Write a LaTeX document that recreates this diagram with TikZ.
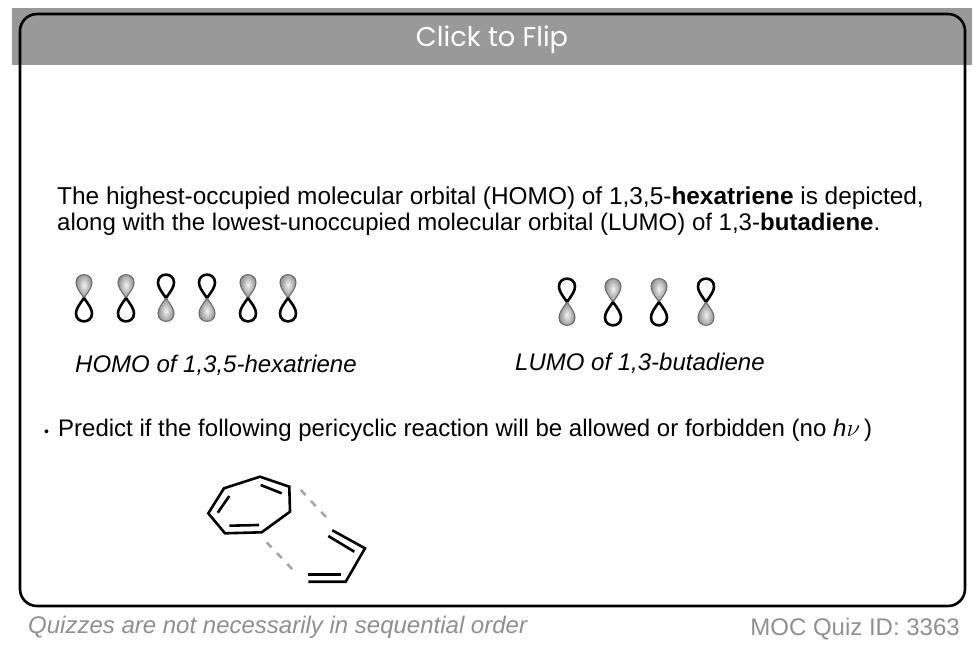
\documentclass[tikz,border=0pt]{standalone}
\usepackage{fontspec}
\setmainfont{Liberation Sans}
\newfontfamily\flipfont{Poppins}

\definecolor{bandgray}{HTML}{999999}
\definecolor{footgray}{HTML}{8F8F8F}
\tikzset{
	bodytext/.style={anchor=base west, inner sep=0pt, font=\fontsize{24}{28}\selectfont},
	slanted/.style={anchor=base west, inner sep=0pt, font=\fontsize{24}{28}\selectfont\itshape},
	foottext/.style={inner sep=0pt, text=footgray, font=\fontsize{24}{28}\selectfont},
	bond/.style={line width=2.6pt, line join=miter},
	forming/.style={line width=2.6pt, draw=black!35, dash pattern=on 7pt off 8pt},
	emptylobe/.style={line width=2.6pt, draw=black},
	fullobe/.style={line width=1pt, draw=black!60, inner color=black!5, outer color=black!45}
}

% one p orbital: x, y of the waist, then the style of upper and lower lobe
\newcommand{\porbital}[4]{
	\path [#3] (#1,#2) .. controls (#1-5,#2-7) and (#1-8,#2-11) .. (#1-8,#2-15.5)
		.. controls (#1-8,#2-26) and (#1+8,#2-26) .. (#1+8,#2-15.5)
		.. controls (#1+8,#2-11) and (#1+5,#2-7) .. (#1,#2);
	\path [#4] (#1,#2) .. controls (#1-5,#2+7) and (#1-8,#2+11) .. (#1-8,#2+15.5)
		.. controls (#1-8,#2+26) and (#1+8,#2+26) .. (#1+8,#2+15.5)
		.. controls (#1+8,#2+11) and (#1+5,#2+7) .. (#1,#2);
}

\begin{document}
\begin{tikzpicture}[x=1pt, y=-1pt]

	\useasboundingbox (0,0) rectangle (978,650);

	% card
	\fill [bandgray] (12,8) rectangle (972,65);
	\draw [line width=2.6pt, rounded corners=17pt] (20,14) rectangle (965,606);
	\node (flip) [anchor=base, inner sep=0pt, text=white, font=\flipfont\fontsize{27.2}{30}\selectfont] at (492,47) {Click to Flip};

	% question
	\node (line1) [bodytext, font=\fontsize{24.4}{28}\selectfont] at (57,204.5) {The highest-occupied molecular orbital (HOMO) of 1,3,5-\textbf{hexatriene} is depicted,};
	\node (line2) [bodytext] at (57,230) {along with the lowest-unoccupied molecular orbital (LUMO) of 1,3-\textbf{butadiene}.};

	% hexatriene
	\foreach \ox/\lobetop/\lobebot in {84/fullobe/emptylobe, 126/fullobe/emptylobe, 166/emptylobe/fullobe, 207/emptylobe/fullobe, 248/fullobe/emptylobe, 288/fullobe/emptylobe}
		\porbital{\ox}{298}{\lobetop}{\lobebot};
	\node (homo) [slanted] at (75,372) {HOMO of 1,3,5-hexatriene};

	% butadiene
	\foreach \ox/\lobetop/\lobebot in {567/emptylobe/fullobe, 613/fullobe/emptylobe, 659/fullobe/emptylobe, 706/emptylobe/fullobe}
		\porbital{\ox}{302}{\lobetop}{\lobebot};
	\node (lumo) [slanted] at (515,370) {LUMO of 1,3-butadiene};

	\node (predict) [bodytext] at (44,436) {\makebox[14pt][l]{\fontsize{14}{14}\selectfont\textbullet}Predict if the following pericyclic reaction will be allowed or forbidden (no \textit{h}$\nu$\,)};

	% cycloheptatriene
	\draw [bond] (224,488.3) -- (260,476.7) -- (289.3,486.7) -- (290,511.7) -- (261.7,532.3) -- (225,533.3) -- (208.3,513.3) -- cycle;
	\draw [bond] (260.7,485) -- (281.7,493.3);
	\draw [bond] (229.3,496) -- (217.7,512.7);
	\draw [bond] (229.3,525.7) -- (259,525);

	% diene
	\draw [bond] (332.3,530.3) -- (365,548.3) -- (345.7,581.7) -- (308.3,581.7);
	\draw [bond] (328.3,536) -- (354.3,551.7);
	\draw [bond] (308.3,574.3) -- (341,574.3);

	% new bonds
	\draw [forming] (300.7,490) -- (326.7,517.7);
	\draw [forming] (266.7,542.3) -- (292.3,569.3);

	% footer
	\node (order) [foottext, anchor=base west, font=\fontsize{24}{28}\selectfont\itshape] at (28,633) {Quizzes are not necessarily in sequential order};
	\node (quizid) [foottext, anchor=base east] at (960,635) {MOC Quiz ID: 3363};

\end{tikzpicture}
\end{document}
